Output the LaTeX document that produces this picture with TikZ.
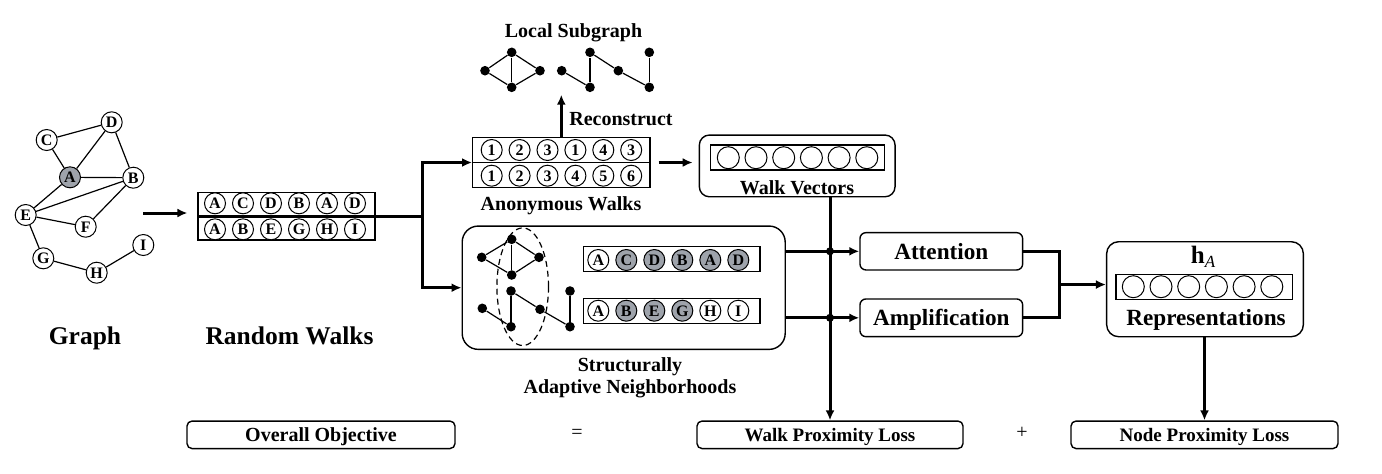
\documentclass[tikz,border=0pt]{standalone}
\usepackage{fontspec}
\setmainfont{Liberation Serif}
\usetikzlibrary{arrows.meta,calc,shapes.geometric}
\definecolor{ngray}{RGB}{158,163,171}
\begin{document}
\begin{tikzpicture}[x=0.5pt,y=-0.5pt,
  every node/.style={font=\bfseries},
  letter/.style={circle,draw,line width=0.5pt,minimum size=10.5pt,inner sep=0pt,fill=white,text height=5.3pt,text depth=0pt,font=\bfseries\fontsize{8}{9}\selectfont},
  w/.style={fill=white},
  g/.style={fill=ngray},
  vcirc/.style={circle,draw,line width=0.5pt,minimum size=11pt,inner sep=0pt},
  dot/.style={circle,fill=black,minimum size=4.8pt,inner sep=0pt},
  sedge/.style={line width=0.6pt},
  plainbox/.style={draw,line width=0.6pt,inner sep=0pt},
  rbox/.style={draw,line width=0.7pt,inner sep=0pt},
  capbox/.style={text height=6.4pt,text depth=0pt},
  flow/.style={line width=1.5pt,-{Latex[length=5pt,width=4.5pt]}},
  wire/.style={line width=1.5pt},
  junc/.style={circle,fill=black,minimum size=4pt,inner sep=0pt},
  lbl/.style={inner sep=0pt,anchor=base},
  fbig/.style={font=\bfseries\fontsize{12.75}{14}\selectfont},
  fmid/.style={font=\bfseries\fontsize{11.6}{13}\selectfont},
  fsmall/.style={font=\bfseries\fontsize{10}{12}\selectfont},
  fsm/.style={font=\bfseries\fontsize{9.5}{11}\selectfont},
]
\useasboundingbox[fill=white] (0,0) rectangle (1382,473);

% ---------------- Graph ----------------
\node[letter] (C) at (46.7,140) {C};
\node[letter] (D) at (111.7,122.3) {D};
\node[letter,g] (A) at (70,177.3) {A};
\node[letter] (B) at (133.3,177.7) {B};
\node[letter] (E) at (25.7,215) {E};
\node[letter] (F) at (85.7,226.7) {F};
\node[letter] (G) at (43.3,258.3) {G};
\node[letter] (H) at (96.7,272.7) {H};
\node[letter] (I) at (143.3,245) {I};
\foreach \a/\b in {C/D,C/A,A/D,D/B,A/B,A/E,E/B,E/F,F/B,E/G,G/H,H/I}
  \draw[sedge] (\a) -- (\b);
\node[lbl,fbig] (tgraph) at (85,344) {Graph};

% ---------------- Random walks ----------------
\node[plainbox,minimum width=88.5pt,minimum height=23.65pt] (rw) at (286.5,216.4) {};
\foreach \l [count=\i from 0] in {A,C,D,B,A,D}
  \node[letter] (rwt\i) at ({215+\i*28},203.3) {\l};
\foreach \l [count=\i from 0] in {A,B,E,G,H,I}
  \node[letter] (rwb\i) at ({215+\i*28},229.3) {\l};
\node[lbl,fbig] (trw) at (289.5,344) {Random Walks};
\coordinate (gout) at (143,213);
\draw[flow] (gout) -- ($(rw.west |- gout)+(-10,0)$);
\coordinate (br) at ($(rw.east)+(47,0)$);
\draw[wire] (rw.west) -- (br);

% ---------------- Anonymous walks ----------------
\node[plainbox,minimum width=88.65pt,minimum height=25.2pt] (aw) at (561.3,162.5) {};
\draw[sedge] (aw.west) -- (aw.east);
\foreach \l [count=\i from 0] in {1,2,3,1,4,3}
  \node[letter] (awt\i) at ({491.7+\i*27.9},150) {\l};
\foreach \l [count=\i from 0] in {1,2,3,4,5,6}
  \node[letter] (awb\i) at ({491.7+\i*27.9},175.7) {\l};
\node[lbl,fsmall] (taw) at (561,210) {Anonymous Walks};
\draw[flow] (br) |- (aw.west);

% ---------------- Local subgraph ----------------
\node[lbl,fsmall] (tls) at (573.5,37) {Local Subgraph};
\node[dot] (l1) at (485,70.7) {};
\node[dot] (l2) at (511.7,52.3) {};
\node[dot] (l3) at (511.7,87.3) {};
\node[dot] (l4) at (540,70.7) {};
\foreach \a/\b in {l1/l2,l1/l3,l2/l3,l2/l4,l3/l4} \draw[sedge] (\a) -- (\b);
\node[dot] (p1) at (561.7,70.7) {};
\node[dot] (p2) at (590,87.3) {};
\node[dot] (p3) at (590,52.3) {};
\node[dot] (p4) at (618.3,70.7) {};
\node[dot] (p5) at (649.3,87.3) {};
\node[dot] (p6) at (649.3,52.3) {};
\foreach \a/\b in {p1/p2,p2/p3,p3/p4,p4/p5,p5/p6} \draw[sedge] (\a) -- (\b);
\coordinate (rtop) at ($(aw.north)+(0,-42)$);
\draw[flow] (aw.north) -- (rtop);
\node[lbl,fsmall] (trec) at (621,125) {Reconstruct};

% ---------------- Walk vectors ----------------
\node[rbox,rounded corners=5pt,minimum width=97.85pt,minimum height=30.85pt] (wv) at (797.2,165.9) {};
\node[plainbox,minimum width=86.8pt,minimum height=12.5pt] (wvi) at (797.5,157.5) {};
\foreach \i in {0,...,5}
  \node[vcirc] (wvc\i) at ({728.3+\i*27.7},157.7) {};
\node[lbl,fsmall] (twv) at (797,194) {Walk Vectors};
\draw[flow] ($(aw.east)+(8,0)$) -- ($(wv.west |- aw.east)+(-6,0)$);

% ---------------- Structurally adaptive neighborhoods ----------------
\node[rbox,rounded corners=8pt,minimum width=161.5pt,minimum height=61.65pt] (san) at (623.7,287.7) {};
\draw[flow] (br) |- (san.west);
\node[dot] (s1) at (481.7,257.3) {};
\node[dot] (s2) at (511.7,239.3) {};
\node[dot] (s3) at (511.7,275) {};
\node[dot] (s4) at (539,257.3) {};
\foreach \a/\b in {s1/s2,s1/s3,s2/s3,s2/s4,s3/s4} \draw[sedge] (\a) -- (\b);
\node[dot] (q1) at (482.3,308.3) {};
\node[dot] (q2) at (511,326.7) {};
\node[dot] (q3) at (511,291) {};
\node[dot] (q4) at (540,309.3) {};
\node[dot] (q5) at (570,326.7) {};
\node[dot] (q6) at (570,291) {};
\foreach \a/\b in {q1/q2,q2/q3,q3/q4,q4/q5,q5/q6} \draw[sedge] (\a) -- (\b);
\node[draw,ellipse,dash pattern=on 3pt off 2pt,line width=0.6pt,minimum width=25.8pt,minimum height=58.8pt,inner sep=0pt] (ell) at (522.7,286.7) {};
\node[plainbox,minimum width=88.35pt,minimum height=12.5pt] (su) at (671.7,259.2) {};
\foreach \l/\f [count=\i from 0] in {A/w,C/g,D/g,B/g,A/g,D/g}
  \node[letter,\f] (sut\i) at ({598.3+\i*28},260) {\l};
\node[plainbox,minimum width=88.35pt,minimum height=12.5pt] (sl) at (671.7,310.8) {};
\foreach \l/\f [count=\i from 0] in {A/w,B/g,E/g,G/g,H/w,I/w}
  \node[letter,\f] (slt\i) at ({598.3+\i*28},310.7) {\l};
\node[lbl,fsmall] (tst) at (630,371.7) {Structurally};
\node[lbl,fsmall] (tan) at (630,393.3) {Adaptive Neighborhoods};

% ---------------- Attention / Amplification ----------------
\node[rbox,capbox,rounded corners=3pt,minimum width=81.35pt,minimum height=18.65pt,fmid,text height=7.7pt] (att) at (941.3,251.3) {Attention};
\node[rbox,capbox,rounded corners=3pt,minimum width=81.35pt,minimum height=18.85pt,fmid,text height=7.7pt] (amp) at (941.3,317.8) {Amplification};

% ---------------- Bottom objective ----------------
\node[rbox,capbox,rounded corners=2.5pt,minimum width=134pt,minimum height=13.75pt,fsmall] (obj) at (321,434.8) {Overall Objective};
\node[lbl,font=\fontsize{10}{12}\selectfont] (eq) at (577,438) {=};
\node[rbox,capbox,rounded corners=2.5pt,minimum width=133pt,minimum height=13.75pt,fsm] (wpl) at (830,434.8) {Walk Proximity Loss};
\node[lbl,font=\fontsize{10}{12}\selectfont] (plus) at (1022,438) {+};
\node[rbox,capbox,rounded corners=2.5pt,minimum width=133.5pt,minimum height=13.75pt,fsm] (npl) at (1204.5,434.8) {Node Proximity Loss};

% walk vector trunk
\draw[flow] (wv.south -| wpl.north) -- (wpl.north);
\draw[flow] (san.east |- att.west) -- (att.west);
\draw[flow] (san.east |- amp.west) -- (amp.west);
\node[junc] (j1) at (wpl.north |- att.west) {};
\node[junc] (j2) at (wpl.north |- amp.west) {};

% ---------------- Representations ----------------
\node[rbox,rounded corners=6pt,minimum width=98.35pt,minimum height=47.5pt] (rep) at (1205,289.2) {};
\node[lbl,font=\fontsize{12.5}{14}\selectfont\bfseries] (hA) at (1203,263.3) {h\raisebox{-2.2pt}{\fontsize{8.5}{9}\selectfont\mdseries\itshape A}};
\node[plainbox,minimum width=88.35pt,minimum height=12.5pt] (repi) at (1204.3,286.8) {};
\foreach \i in {0,...,5}
  \node[vcirc] (rc\i) at ({1133.3+\i*27.7},286.7) {};
\node[lbl,fmid] (trep) at (1206,325) {Representations};

\coordinate (m1) at ($(att.east)+(35.7,0)$);
\coordinate (merge) at ($(m1)!0.5!(m1 |- amp.east)$);
\draw[wire] (att.east) -- (m1) -- (m1 |- amp.east) -- (amp.east);
\draw[flow] (merge) -- (rep.west |- merge);
\draw[flow] (rep.south -| npl.north) -- (npl.north);
\end{tikzpicture}
\end{document}
